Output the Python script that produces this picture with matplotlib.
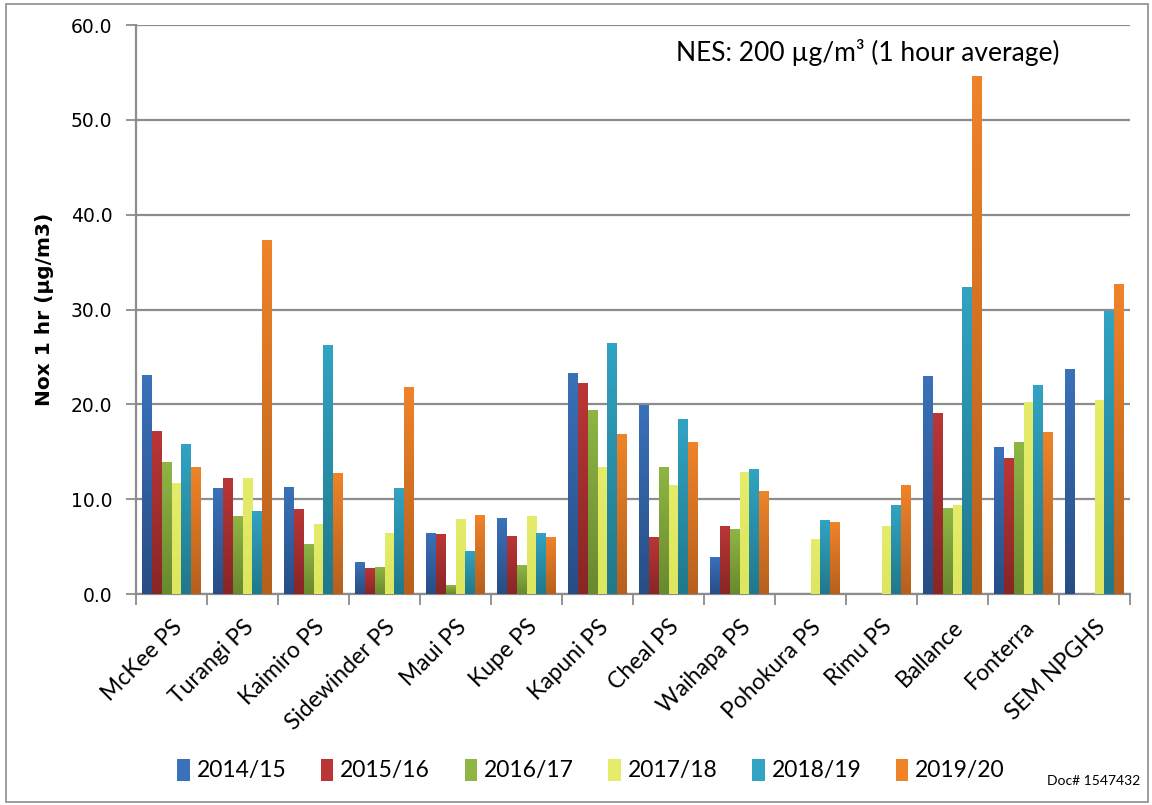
import numpy as np
import matplotlib
matplotlib.use("Agg")
import matplotlib.pyplot as plt
from matplotlib.colors import LinearSegmentedColormap
from matplotlib.patches import Rectangle

categories = ["McKee PS", "Turangi PS", "Kaimiro PS", "Sidewinder PS", "Maui PS", "Kupe PS",
              "Kapuni PS", "Cheal PS", "Waihapa PS", "Pohokura PS", "Rimu PS", "Ballance",
              "Fonterra", "SEM NPGHS"]
series_names = ["2014/15", "2015/16", "2016/17", "2017/18", "2018/19", "2019/20"]
v2014 = [23.0, 11.1, 11.2, 3.3, 6.4, 8.0, 23.2, 19.9, 3.85, 0, 0, 22.9, 15.4, 23.7]
v2015 = [17.15, 12.2, 8.9, 2.7, 6.3, 6.05, 22.2, 5.95, 7.1, 0, 0, 19.05, 14.3, 0]
v2016 = [13.9, 8.2, 5.2, 2.8, 0.9, 3.0, 19.3, 13.35, 6.8, 0, 0, 9.0, 15.95, 0]
v2017 = [11.65, 12.2, 7.3, 6.4, 7.85, 8.2, 13.35, 11.45, 12.8, 5.75, 7.1, 9.3, 20.2, 20.4]
v2018 = [15.8, 8.7, 26.2, 11.1, 4.5, 6.4, 26.4, 18.4, 13.1, 7.75, 9.3, 32.3, 22.0, 29.8]
v2019 = [13.35, 37.3, 12.7, 21.8, 8.3, 5.95, 16.8, 16.0, 10.8, 7.55, 11.4, 54.6, 17.0, 32.6]
values = [v2014, v2015, v2016, v2017, v2018, v2019]
yticks = [0, 10, 20, 30, 40, 50, 60]

# (top, bottom) colours for gradient fills
grad = [("#3A71B9", "#274D85"), ("#BA3636", "#882626"), ("#8FB544", "#68892F"),
        ("#E4EC6A", "#DDE65E"), ("#31A3C3", "#20788B"), ("#EF8329", "#B6601D")]

fig = plt.figure(figsize=(11.52, 8.05), dpi=100)
ax = fig.add_axes([136/1152, 1-594/805, (1130-136)/1152, (594-25)/805])

n = len(categories)
x = np.arange(n)
bw = 0.137
offs = (np.arange(6) - 2.5) * bw
gvals = np.linspace(0, 1, 64).reshape(-1, 1)
for si, vals in enumerate(values):
    top, bot = grad[si]
    cmap = LinearSegmentedColormap.from_list("g%d" % si, [bot, top])
    bars = ax.bar(x + offs[si], vals, width=bw, color=top, label=series_names[si], zorder=3)
    for b in bars:
        h = b.get_height()
        b.set_facecolor("none")
        if h <= 0:
            continue
        x0 = b.get_x()
        ax.imshow(gvals, extent=[x0, x0 + b.get_width(), 0, h], origin="lower",
                  aspect="auto", cmap=cmap, zorder=3, interpolation="bilinear")

# legend proxies
handles = [Rectangle((0, 0), 1, 1, facecolor=grad[i][0]) for i in range(6)]

ax.set_xlim(-0.5, n - 0.5)
ax.set_ylim(0, 60)
ax.set_yticks(yticks)
ax.set_yticklabels(["%.1f" % t for t in yticks], fontsize=13.5, family="DejaVu Sans")
ax.grid(axis="y", color="#8C8C8C", linewidth=1.6, zorder=1)
ax.set_axisbelow(True)
for s in ["top", "right"]:
    ax.spines[s].set_visible(False)
for s in ["left", "bottom"]:
    ax.spines[s].set_color("#8C8C8C")
    ax.spines[s].set_linewidth(1.6)
ax.tick_params(axis="y", direction="out", length=7, width=1.3, color="#8C8C8C", pad=10)

# category labels at centres, ticks at boundaries
ax.set_xticks(np.arange(n + 1) - 0.5)
ax.set_xticklabels([])
ax.tick_params(axis="x", direction="out", length=8, width=1.3, color="#8C8C8C")
ax.set_xticks(x, minor=True)
ax.set_xticklabels(categories, minor=True, rotation=45, ha="right",
                   rotation_mode="anchor", fontsize=16.5, family="Lato")
ax.tick_params(axis="x", which="minor", length=0, pad=16)

ax.set_ylabel("Nox 1 hr (µg/m3)", fontsize=14.5, fontweight="bold", family="DejaVu Sans",
              labelpad=12)

ax.text((1060-136)/994, 1-(52-25)/569, "NES: 200 µg/m³ (1 hour average)", transform=ax.transAxes,
        ha="right", va="center", fontsize=19, family="Lato")

fig.legend(handles, series_names, loc="center", bbox_to_anchor=(0.513, 1-770/805),
           ncol=6, frameon=False, prop={"family": "Lato", "size": 16.5},
           handlelength=0.55, handleheight=1.1, handletextpad=0.3, columnspacing=1.5)

fig.text(1140/1152, 1-781/805, "Doc# 1547432", ha="right", va="center",
         fontsize=10, family="Lato")

fig.patches.append(Rectangle((6/1152, 3/805), 1 - 10/1152, 1 - 7/805, transform=fig.transFigure,
                             fill=False, edgecolor="#8C8C8C", linewidth=1.2))

fig.savefig("out.png", dpi=100)
